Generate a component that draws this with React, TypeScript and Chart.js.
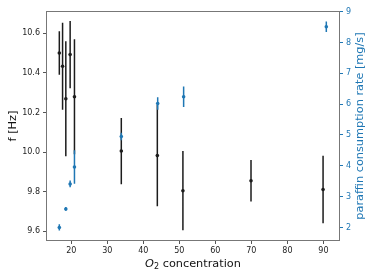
import React, { useEffect, useRef } from 'react';
import { Chart, registerables } from 'chart.js';

Chart.register(...registerables);

// Frequency series (left axis)
const fO2 = [16.7, 17.6, 18.5, 19.7, 20.9, 33.9, 43.9, 51.0, 69.9, 89.9];
const fHz = [10.5, 10.433, 10.269, 10.492, 10.279, 10.005, 9.982, 9.805, 9.855, 9.811];
const fErr = [0.11, 0.22, 0.29, 0.17, 0.29, 0.167, 0.255, 0.2, 0.105, 0.17];

// Paraffin consumption series (right axis)
const rateO2 = [16.7, 18.5, 19.7, 20.9, 33.9, 44.0, 51.2, 90.8];
const rate = [2.0, 2.6, 3.41, 3.96, 4.95, 6.02, 6.24, 8.51];
const rateErr = [0.1, 0.06, 0.11, 0.54, 0.12, 0.2, 0.33, 0.17];

// Tick labels
const xTicks = [20, 30, 40, 50, 60, 70, 80, 90];
const fTicks = [9.6, 9.8, 10.0, 10.2, 10.4, 10.6];
const rateTicks = [2, 3, 4, 5, 6, 7, 8, 9];

const BLUE = '#1f77b4';
const BLACK = '#1c1c1c';
const FONT = 'DejaVu Sans';

const errs = [fErr, rateErr];
const ys = [fHz, rate];
const xs = [fO2, rateO2];

const customPlugin = {
  id: 'custom',
  beforeDatasetDraw(chart: any, args: any) {
    const i = args.index;
    const meta = chart.getDatasetMeta(i);
    const xScale = chart.scales.x;
    const yScale = chart.scales[meta.yAxisID];
    const ctx = chart.ctx;
    ctx.save();
    ctx.strokeStyle = i === 0 ? BLACK : BLUE;
    ctx.lineWidth = 1.5;
    ctx.beginPath();
    for (let j = 0; j < xs[i].length; j++) {
      const px = xScale.getPixelForValue(xs[i][j]);
      const y1 = yScale.getPixelForValue(ys[i][j] - errs[i][j]);
      const y2 = yScale.getPixelForValue(ys[i][j] + errs[i][j]);
      ctx.moveTo(px, y1);
      ctx.lineTo(px, y2);
    }
    ctx.stroke();
    ctx.restore();
  },
  afterDraw(chart: any) {
    const ctx = chart.ctx;
    const a = chart.chartArea;
    ctx.save();
    ctx.strokeStyle = '#777';
    ctx.lineWidth = 1;
    ctx.strokeRect(a.left + 0.5, a.top + 0.5, a.right - a.left - 1, a.bottom - a.top - 1);

    // left title
    ctx.fillStyle = '#111';
    ctx.font = `11.3px "${FONT}"`;
    ctx.textAlign = 'center';
    ctx.textBaseline = 'middle';
    ctx.save();
    ctx.translate(13.5, (a.top + a.bottom) / 2);
    ctx.rotate(-Math.PI / 2);
    ctx.fillText('f [Hz]', 0, 0);
    ctx.restore();

    // right title
    ctx.fillStyle = BLUE;
    ctx.save();
    ctx.translate(360, (a.top + a.bottom) / 2);
    ctx.rotate(-Math.PI / 2);
    ctx.fillText('paraffin consumption rate [mg/s]', 0, 0);
    ctx.restore();

    // x title with subscript
    ctx.fillStyle = '#111';
    ctx.textAlign = 'left';
    ctx.textBaseline = 'alphabetic';
    const fI = `italic 11.3px "${FONT}"`;
    const fS = `8px "${FONT}"`;
    const fN = `11.3px "${FONT}"`;
    ctx.font = fI;
    const wO = ctx.measureText('O').width;
    ctx.font = fS;
    const w2 = ctx.measureText('2').width;
    ctx.font = fN;
    const rest = ' concentration';
    const wR = ctx.measureText(rest).width;
    const total = wO + w2 + wR;
    let x0 = (a.left + a.right) / 2 - total / 2;
    const base = 266.5;
    ctx.font = fI;
    ctx.fillText('O', x0, base);
    x0 += wO;
    ctx.font = fS;
    ctx.fillText('2', x0, base + 2.5);
    x0 += w2;
    ctx.font = fN;
    ctx.fillText(rest, x0, base);
    ctx.restore();
  },
};

export default function App() {
  const ref = useRef<HTMLCanvasElement | null>(null);
  useEffect(() => {
    if (!ref.current) return;
    const chart = new Chart(ref.current, {
      type: 'scatter',
      data: {
        datasets: [
          {
            data: fO2.map((x, i) => ({ x, y: fHz[i] })),
            yAxisID: 'y',
            pointRadius: 1.8,
            pointBackgroundColor: BLACK,
            pointBorderWidth: 0,
            order: 2,
          },
          {
            data: rateO2.map((x, i) => ({ x, y: rate[i] })),
            yAxisID: 'y1',
            pointRadius: 1.8,
            pointBackgroundColor: BLUE,
            pointBorderWidth: 0,
            order: 1,
          },
        ],
      },
      options: {
        responsive: false,
        animation: false,
        events: [],
        layout: { padding: { top: 11, left: 0, right: 0, bottom: 0 } },
        plugins: { legend: { display: false }, tooltip: { enabled: false } },
        scales: {
          x: {
            type: 'linear',
            min: 13.0,
            max: 94.6,
            afterBuildTicks: (s: any) => {
              s.ticks = xTicks.map((v) => ({ value: v }));
            },
            afterFit: (s: any) => {
              s.height = 39;
            },
            ticks: {
              callback: (v: any) => String(v),
              font: { family: FONT, size: 8 },
              color: '#222',
              padding: 2,
              maxRotation: 0,
            },
            grid: { drawOnChartArea: false, drawTicks: true, tickLength: 3, tickColor: '#555' },
            border: { display: false },
          },
          y: {
            type: 'linear',
            position: 'left',
            min: 9.551,
            max: 10.712,
            afterBuildTicks: (s: any) => {
              s.ticks = fTicks.map((v) => ({ value: v }));
            },
            afterFit: (s: any) => {
              s.width = 46;
            },
            ticks: {
              callback: (v: any) => Number(v).toFixed(1),
              font: { family: FONT, size: 8 },
              color: '#222',
              padding: 3,
            },
            grid: { drawOnChartArea: false, drawTicks: true, tickLength: 3, tickColor: '#555' },
            border: { display: false },
          },
          y1: {
            type: 'linear',
            position: 'right',
            min: 1.56,
            max: 9.02,
            afterBuildTicks: (s: any) => {
              s.ticks = rateTicks.map((v) => ({ value: v }));
            },
            afterFit: (s: any) => {
              s.width = 34;
            },
            ticks: {
              callback: (v: any) => String(v),
              font: { family: FONT, size: 8 },
              color: BLUE,
              padding: 3,
            },
            grid: { drawOnChartArea: false, drawTicks: true, tickLength: 3, tickColor: BLUE },
            border: { display: false },
          },
        },
      },
      plugins: [customPlugin],
    });
    return () => chart.destroy();
  }, []);
  return (
    <div style={{ position: 'fixed', left: 0, top: 0, width: 374, height: 280, background: '#fff' }}>
      <canvas ref={ref} width={374} height={280} style={{ display: 'block' }} />
    </div>
  );
}
